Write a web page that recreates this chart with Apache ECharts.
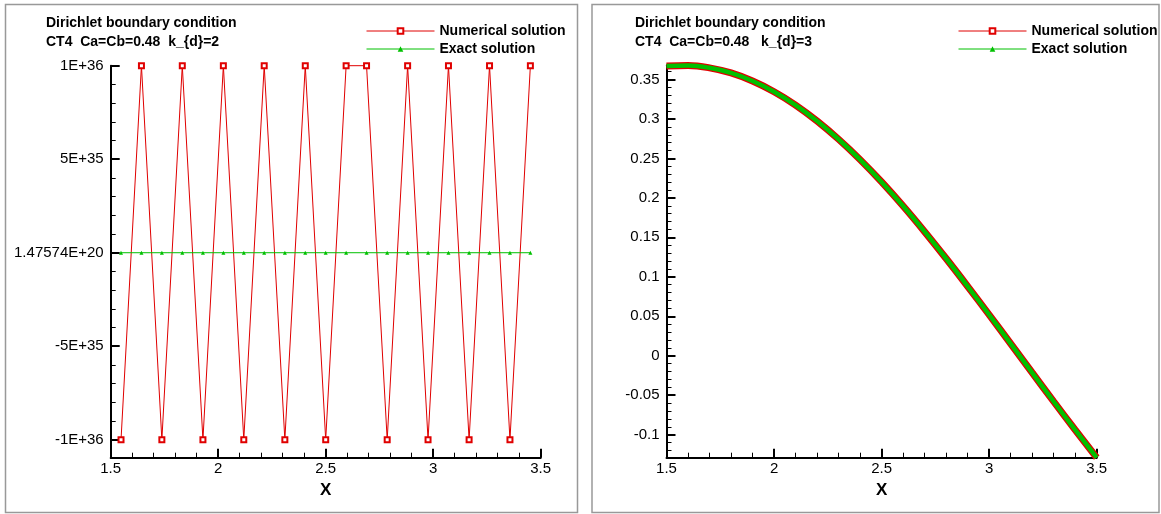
<!DOCTYPE html>
<html><head><meta charset="utf-8">
<script src="https://cdn.jsdelivr.net/npm/echarts@6/dist/echarts.min.js"></script>
<style>html,body{margin:0;padding:0;background:#fff}#c{width:1161px;height:514px}</style>
</head><body><div id="c"></div>
<script>
// ---------- Left panel data (k_{d}=2) ----------
const leftX = [1.548, 1.643, 1.738, 1.833, 1.929, 2.024, 2.119, 2.214, 2.310, 2.405, 2.500,
               2.595, 2.690, 2.786, 2.881, 2.976, 3.071, 3.167, 3.262, 3.357, 3.452];
const leftNumerical = [-1e36, 1e36, -1e36, 1e36, -1e36, 1e36, -1e36, 1e36, -1e36, 1e36, -1e36,
                       1e36, 1e36, -1e36, 1e36, -1e36, 1e36, -1e36, 1e36, -1e36, 1e36];
const leftExact = [1.47574e20, 1.47574e20, 1.47574e20, 1.47574e20, 1.47574e20, 1.47574e20, 1.47574e20,
                   1.47574e20, 1.47574e20, 1.47574e20, 1.47574e20, 1.47574e20, 1.47574e20, 1.47574e20,
                   1.47574e20, 1.47574e20, 1.47574e20, 1.47574e20, 1.47574e20, 1.47574e20, 1.47574e20];
const leftYTickValues = [-1e36, -5e35, 1.47574e20, 5e35, 1e36];
const leftYTickLabels = ['-1E+36', '-5E+35', '1.47574E+20', '5E+35', '1E+36'];

// ---------- Right panel data (k_{d}=3) ----------
const rightX = [1.5, 1.6, 1.7, 1.8, 1.9, 2.0, 2.1, 2.2, 2.3, 2.4, 2.5,
                2.6, 2.7, 2.8, 2.9, 3.0, 3.1, 3.2, 3.3, 3.4, 3.5];
const rightNumerical = [0.3670, 0.3677, 0.3648, 0.3583, 0.3481, 0.3345, 0.3176, 0.2974, 0.2743, 0.2485, 0.2202,
                        0.1897, 0.1572, 0.1232, 0.0880, 0.0519, 0.0153, -0.0215, -0.0580, -0.0940, -0.1291];
const rightExact = [0.3670, 0.3677, 0.3648, 0.3583, 0.3481, 0.3345, 0.3176, 0.2974, 0.2743, 0.2485, 0.2202,
                    0.1897, 0.1572, 0.1232, 0.0880, 0.0519, 0.0153, -0.0215, -0.0580, -0.0940, -0.1291];
const rightYTickValues = [-0.1, -0.05, 0, 0.05, 0.1, 0.15, 0.2, 0.25, 0.3, 0.35];
const rightYTickLabels = ['-0.1', '-0.05', '0', '0.05', '0.1', '0.15', '0.2', '0.25', '0.3', '0.35'];

const titles = ['Dirichlet boundary condition\nCT4  Ca=Cb=0.48  k_{d}=2',
                'Dirichlet boundary condition\nCT4  Ca=Cb=0.48   k_{d}=3'];
const seriesNames = ['Numerical solution', 'Exact solution'];

// minor tick positions
const leftMinor = [];
for (let i = -10; i <= 10; i++) if (i % 5 !== 0) leftMinor.push(i * 1e35);
const rightMinor = [];
for (let i = -12; i <= 36; i++) if (i % 5 !== 0) rightMinor.push(i / 100);

const FONT = 'Liberation Sans, Arial, Helvetica, sans-serif';
const RED = '#e00000', GREEN = '#00c000';

function zip(a, b) { return a.map((v, i) => [v, b[i]]); }
function lookup(vals, labels) {
  return function (v) {
    let best = 0;
    for (let i = 1; i < vals.length; i++) if (Math.abs(vals[i] - v) < Math.abs(vals[best] - v)) best = i;
    return labels[best];
  };
}

function xAxis(grid) {
  return {
    gridIndex: grid, type: 'value', min: 1.5, max: 3.5, interval: 0.5,
    name: 'X', nameLocation: 'middle', nameGap: 17,
    nameTextStyle: { fontSize: 17, fontWeight: 'bold', color: '#000', fontFamily: FONT },
    axisLine: { show: true, onZero: false, lineStyle: { color: '#000', width: 2 } },
    axisTick: { show: true, inside: true, length: 9, lineStyle: { color: '#000', width: 2 } },
    minorTick: { show: true, splitNumber: 5, length: 5, lineStyle: { color: '#000', width: 1 } },
    axisLabel: { fontSize: 15, color: '#000', fontFamily: FONT, margin: 4,
                 formatter: v => String(v) },
    splitLine: { show: false }
  };
}
function yAxisMajor(grid, min, max, vals, labels) {
  return {
    gridIndex: grid, type: 'value', min: min, max: max, position: 'left',
    axisLine: { show: true, onZero: false, lineStyle: { color: '#000', width: 2 } },
    axisTick: { show: true, inside: true, length: 9, customValues: vals, lineStyle: { color: '#000', width: 2 } },
    axisLabel: { customValues: vals, formatter: lookup(vals, labels), fontSize: 15, color: '#000',
                 fontFamily: FONT, margin: 7 },
    splitLine: { show: false }
  };
}
function yAxisMinor(grid, min, max, vals) {
  return {
    gridIndex: grid, type: 'value', min: min, max: max, position: 'left',
    axisLine: { show: false },
    axisTick: { show: true, inside: true, length: 5, customValues: vals, lineStyle: { color: '#000', width: 1 } },
    axisLabel: { show: false },
    splitLine: { show: false }
  };
}
function legend(left) {
  return {
    left: left, top: 23, orient: 'vertical', itemWidth: 68, itemHeight: 7, itemGap: 2,
    selectedMode: false, padding: 0,
    data: seriesNames,
    lineStyle: { width: 1 },
    textStyle: { fontSize: 14, fontWeight: 'bold', color: '#000', fontFamily: FONT, lineHeight: 16 }
  };
}
function title(left, text) {
  return {
    left: left, top: 14, padding: 0, text: text,
    textStyle: { fontSize: 14, fontWeight: 'bold', color: '#000', fontFamily: FONT, lineHeight: 19 }
  };
}

const chart = echarts.init(document.getElementById('c'), null, { renderer: 'canvas' });
chart.setOption({
  animation: false,
  backgroundColor: '#fff',
  title: [title(46, titles[0]), title(635, titles[1])],
  legend: [legend(366), legend(958)],
  grid: [
    { left: 110.7, right: 620.3, top: 65.7, bottom: 56.3, containLabel: false },
    { left: 666.5, right: 64.3, top: 65.3, bottom: 56.3, containLabel: false }
  ],
  xAxis: [xAxis(0), xAxis(1)],
  yAxis: [
    yAxisMajor(0, -1.096e36, 1e36, leftYTickValues, leftYTickLabels),
    yAxisMinor(0, -1.096e36, 1e36, leftMinor),
    yAxisMajor(1, -0.1292, 0.368, rightYTickValues, rightYTickLabels),
    yAxisMinor(1, -0.1292, 0.368, rightMinor)
  ],
  graphic: [
    { type: 'rect', shape: { x: 5.5, y: 4.5, width: 572, height: 508 }, silent: true,
      style: { fill: 'none', stroke: '#999', lineWidth: 1.5 } },
    { type: 'rect', shape: { x: 592, y: 4.5, width: 567, height: 508 }, silent: true,
      style: { fill: 'none', stroke: '#999', lineWidth: 1.5 } }
  ],
  series: [
    { name: seriesNames[0], type: 'line', xAxisIndex: 0, yAxisIndex: 0, data: zip(leftX, leftNumerical),
      symbol: 'emptyRect', symbolSize: 5, showAllSymbol: true, clip: false,
      itemStyle: { color: RED, borderColor: RED, borderWidth: 1 },
      lineStyle: { color: RED, width: 1 } },
    { name: seriesNames[1], type: 'line', xAxisIndex: 0, yAxisIndex: 0, data: zip(leftX, leftExact),
      symbol: 'triangle', symbolSize: 4, showAllSymbol: true, clip: false,
      itemStyle: { color: GREEN },
      lineStyle: { color: GREEN, width: 1 } },
    { name: seriesNames[0], type: 'line', xAxisIndex: 1, yAxisIndex: 2, data: zip(rightX, rightNumerical),
      symbol: 'emptyRect', symbolSize: 5, showSymbol: false, clip: false, smooth: 0.4,
      itemStyle: { color: RED, borderColor: RED, borderWidth: 1 },
      lineStyle: { color: RED, width: 7 } },
    { name: seriesNames[1], type: 'line', xAxisIndex: 1, yAxisIndex: 2, data: zip(rightX, rightExact),
      symbol: 'triangle', symbolSize: 4, showSymbol: false, clip: false, smooth: 0.4,
      itemStyle: { color: GREEN },
      lineStyle: { color: GREEN, width: 4.5 } }
  ]
});
</script>
</body></html>
